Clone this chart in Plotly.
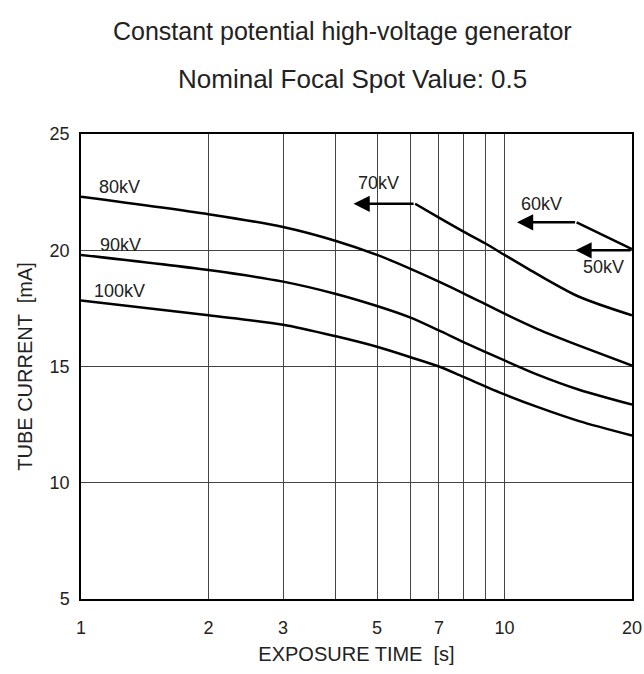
import numpy as np
import plotly.graph_objects as go

# ---- data ----
time_main = [1, 2, 3, 4, 5, 6, 7, 8, 10, 12, 15, 20]
cur_80 = [22.3, 21.55, 21.0, 20.4, 19.8, 19.2, 18.65, 18.15, 17.27, 16.6, 15.9, 15.04]
cur_90 = [19.8, 19.15, 18.65, 18.12, 17.6, 17.1, 16.55, 16.05, 15.26, 14.64, 14.0, 13.36]
cur_100 = [17.84, 17.2, 16.8, 16.3, 15.85, 15.4, 15.0, 14.55, 13.8, 13.25, 12.65, 12.03]

time_70 = [6.15, 7, 8, 9, 10, 12, 15, 20]
cur_70 = [22.0, 21.4, 20.8, 20.3, 19.8, 18.95, 18.0, 17.2]

time_60 = [14.8, 20]
cur_60 = [21.2, 20.05]

# arrows: (tail_time, tip_time, current)
arrow_70 = (6.15, 4.4, 22.0)
arrow_60 = (14.8, 10.7, 21.2)
arrow_50 = (20.0, 14.7, 20.0)

# labels: (text, time, current)
labels = [
    ("80kV", 1.23, 22.73),
    ("90kV", 1.24, 20.22),
    ("100kV", 1.235, 18.25),
    ("70kV", 5.04, 22.9),
    ("60kV", 12.24, 22.0),
    ("50kV", 17.12, 19.28),
]

x_grid = [1, 2, 3, 4, 5, 6, 7, 8, 9, 10, 20]
x_ticktext = ["1", "2", "3", "", "5", "", "7", "", "", "10", "20"]
y_ticks = [5, 10, 15, 20, 25]

FONT = "Liberation Sans, Arial, sans-serif"
TXT = "#222"

fig = go.Figure()
line_style = dict(color="black", width=2.5, shape="spline", smoothing=0.8)
for xs, ys in [(time_main, cur_80), (time_main, cur_90), (time_main, cur_100),
               (time_70, cur_70), (time_60, cur_60)]:
    fig.add_trace(go.Scatter(x=xs, y=ys, mode="lines", line=line_style,
                             showlegend=False, hoverinfo="skip"))

for tail, tip, yv in [arrow_70, arrow_60, arrow_50]:
    fig.add_annotation(x=np.log10(tip), y=yv, ax=np.log10(tail), ay=yv,
                       xref="x", yref="y", axref="x", ayref="y",
                       text="", showarrow=True, arrowhead=2, arrowsize=1.3,
                       arrowwidth=2.5, arrowcolor="black")

for txt, xv, yv in labels:
    fig.add_annotation(x=np.log10(xv), y=yv, text=txt, showarrow=False,
                       xref="x", yref="y",
                       font=dict(family=FONT, size=18, color=TXT))

fig.add_annotation(text="Constant potential high-voltage generator",
                   xref="paper", yref="paper", x=0.474, y=1.0,
                   yanchor="middle", yshift=103, showarrow=False,
                   font=dict(family=FONT, size=25, color=TXT))
fig.add_annotation(text="Nominal Focal Spot Value: 0.5",
                   xref="paper", yref="paper", x=0.492, y=1.0,
                   yanchor="middle", yshift=55, showarrow=False,
                   font=dict(family=FONT, size=26, color=TXT))

fig.update_xaxes(type="log", range=[0, np.log10(20)],
                 tickvals=x_grid, ticktext=x_ticktext,
                 showgrid=True, gridcolor="#444", gridwidth=1,
                 showline=True, linecolor="black", linewidth=1.5, mirror=True,
                 ticks="", ticklabelstandoff=12, automargin=False,
                 tickfont=dict(family=FONT, size=18, color=TXT),
                 title=dict(text="EXPOSURE TIME  [s]", standoff=10,
                            font=dict(family=FONT, size=20, color=TXT)),
                 zeroline=False)
fig.update_yaxes(range=[5, 25], tickvals=y_ticks,
                 showgrid=True, gridcolor="#444", gridwidth=1,
                 showline=True, linecolor="black", linewidth=1.5, mirror=True,
                 ticks="", ticklabelstandoff=6, automargin=False,
                 tickfont=dict(family=FONT, size=18, color=TXT),
                 title=dict(text="TUBE CURRENT  [mA]", standoff=12,
                            font=dict(family=FONT, size=20, color=TXT)),
                 zeroline=False)

fig.update_layout(width=644, height=674,
                  margin=dict(l=81, r=12, t=134, b=75),
                  plot_bgcolor="white", paper_bgcolor="white",
                  showlegend=False)

fig.write_html("out.html", config={"displayModeBar": False},
               post_script="document.body.style.margin='0px';"
                           "document.body.style.overflow='hidden';")
